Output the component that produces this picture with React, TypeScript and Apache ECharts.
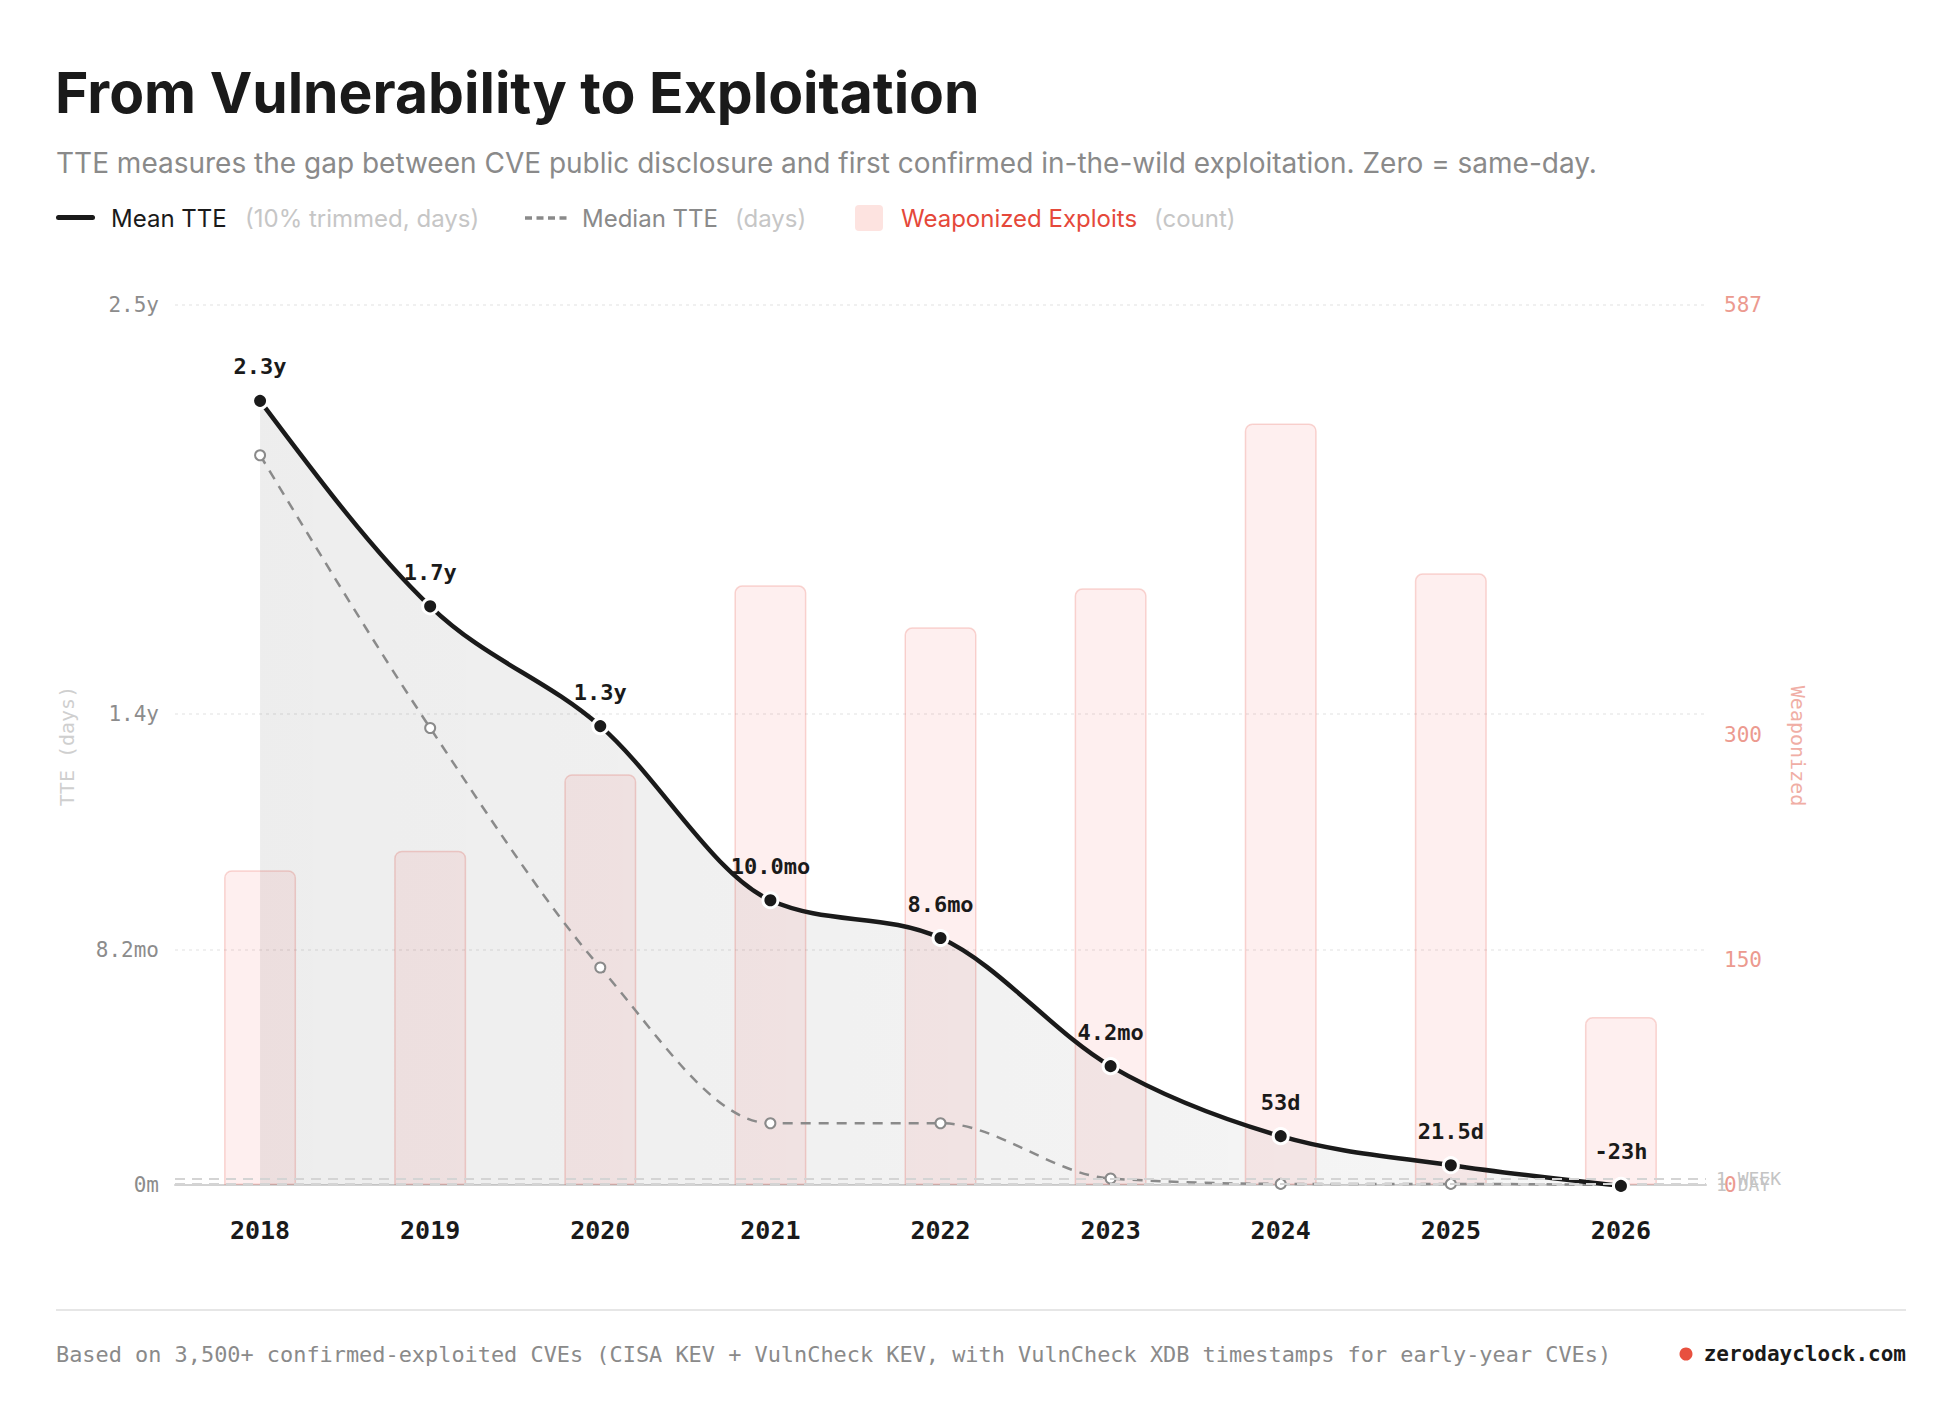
import React, { useEffect, useRef } from "react";
import * as echarts from "echarts";

// ---- data ----
const years = ["2018", "2019", "2020", "2021", "2022", "2023", "2024", "2025", "2026"];
const meanDays = [851, 628, 498, 309, 268, 129, 53, 21.5, -0.96];
const meanLabels = ["2.3y", "1.7y", "1.3y", "10.0mo", "8.6mo", "4.2mo", "53d", "21.5d", "-23h"];
const medianDays = [792, 496, 236, 67, 67, 7, 1.2, 1.2, 0];
const weaponized = [210, 223, 274, 400, 372, 398, 508, 408, 112];

const leftTicks = [0, 255, 511, 955];
const leftTickLabels = ["0m", "8.2mo", "1.4y", "2.5y"];
const rightTicks = [0, 150, 300, 587];
const rightTickLabels = ["0", "150", "300", "587"];

const refLines = [
  { value: 7, label: "1 WEEK" },
  { value: 1, label: "1 DAY" },
];

const MONO = "'DejaVu Sans Mono', 'Liberation Mono', monospace";
const SANS = "Inter, 'Noto Sans', sans-serif";

// monotone-x cubic path (same maths as d3.curveMonotoneX) through pixel points
function monotonePath(pts: number[][]): string {
  const n = pts.length;
  if (n < 2) return "";
  const sign = (v: number) => (v < 0 ? -1 : 1);
  const s: number[] = [];
  for (let i = 0; i < n - 1; i++) {
    const h = pts[i + 1][0] - pts[i][0];
    s.push((pts[i + 1][1] - pts[i][1]) / h);
  }
  const t: number[] = new Array(n).fill(0);
  for (let i = 1; i < n - 1; i++) {
    const h0 = pts[i][0] - pts[i - 1][0];
    const h1 = pts[i + 1][0] - pts[i][0];
    const s0 = s[i - 1];
    const s1 = s[i];
    const p = (s0 * h1 + s1 * h0) / (h0 + h1);
    const v = (sign(s0) + sign(s1)) * Math.min(Math.abs(s0), Math.abs(s1), 0.5 * Math.abs(p));
    t[i] = v || 0;
  }
  t[0] = n > 2 ? (3 * s[0] - t[1]) / 2 : s[0];
  t[n - 1] = n > 2 ? (3 * s[n - 2] - t[n - 2]) / 2 : s[n - 2];
  let d = `M${pts[0][0]},${pts[0][1]}`;
  for (let i = 0; i < n - 1; i++) {
    const [x0, y0] = pts[i];
    const [x1, y1] = pts[i + 1];
    const dx = (x1 - x0) / 3;
    d += ` C${x0 + dx},${y0 + dx * t[i]} ${x1 - dx},${y1 - dx * t[i + 1]} ${x1},${y1}`;
  }
  return d;
}

export default function App() {
  const ref = useRef<HTMLDivElement>(null);

  useEffect(() => {
    if (!ref.current) return;
    const chart = echarts.init(ref.current, null, { renderer: "svg" });

    const txt = (x: number, y: number, text: string, fill: string, size: number, family: string, weight: any = 400, align = "left", extra: any = {}) => ({
      type: "text",
      x,
      y,
      silent: true,
      ...extra,
      style: {
        text,
        fill,
        fontSize: size,
        fontFamily: family,
        fontWeight: weight,
        textAlign: align,
        textVerticalAlign: "middle",
      },
    });

    const meanGradient = new echarts.graphic.LinearGradient(0, 0, 1, 0, [
      { offset: 0, color: "rgba(0,0,0,0.07)" },
      { offset: 1, color: "rgba(0,0,0,0.035)" },
    ]);

    const option: any = {
      animation: false,
      backgroundColor: "#ffffff",
      grid: { left: 175, right: 254, top: 305, bottom: 241, containLabel: false },
      xAxis: {
        type: "category",
        data: years,
        boundaryGap: true,
        axisLine: { show: true, lineStyle: { color: "#d2d2d2", width: 2 } },
        axisTick: { show: false },
        axisLabel: {
          color: "#1a1a1a",
          fontFamily: MONO,
          fontWeight: 700,
          fontSize: 25,
          margin: 33,
        },
        splitLine: { show: false },
      },
      yAxis: [
        {
          type: "value",
          min: 0,
          max: 955,
          axisLine: { show: false },
          axisTick: { show: false, customValues: leftTicks },
          axisLabel: {
            customValues: leftTicks,
            color: "#8c8c8c",
            fontFamily: MONO,
            fontSize: 21,
            margin: 16,
            formatter: (v: number) => {
              const i = leftTicks.indexOf(v);
              return i >= 0 ? leftTickLabels[i] : "";
            },
          },
          splitLine: { show: true, lineStyle: { color: "#ebebeb", width: 1.5, type: [3, 4] } },
        },
        {
          type: "value",
          min: 0,
          max: 587,
          position: "right",
          axisLine: { show: false },
          axisTick: { show: false, customValues: rightTicks },
          axisLabel: {
            customValues: rightTicks,
            color: "#ec9a8f",
            fontFamily: MONO,
            fontSize: 21,
            margin: 18,
            formatter: (v: number) => {
              const i = rightTicks.indexOf(v);
              return i >= 0 ? rightTickLabels[i] : "";
            },
          },
          splitLine: { show: false },
        },
      ],
      series: [
        {
          name: "Weaponized Exploits",
          type: "bar",
          yAxisIndex: 1,
          data: weaponized,
          barWidth: 72,
          z: 1,
          itemStyle: {
            color: "rgba(239,83,80,0.09)",
            borderColor: "rgba(232,110,100,0.28)",
            borderWidth: 1.5,
            borderRadius: [7, 7, 0, 0],
          },
        },
        // smooth monotone curves (area + lines), drawn through the axes' own scales
        {
          name: "curves",
          type: "custom",
          coordinateSystem: "cartesian2d",
          yAxisIndex: 0,
          data: [[0, 0]],
          z: 3,
          silent: true,
          clip: false,
          renderItem: (params: any, api: any) => {
            if (params.dataIndex !== 0) return null;
            const meanPts = meanDays.map((v, i) => api.coord([i, v]));
            const medPts = medianDays.map((v, i) => api.coord([i, v]));
            const zeroY = api.coord([0, 0])[1];
            const meanD = monotonePath(meanPts);
            const medD = monotonePath(medPts);
            const last = meanPts[meanPts.length - 1];
            const first = meanPts[0];
            const areaD = `${meanD} L${last[0]},${zeroY} L${first[0]},${zeroY} Z`;
            return {
              type: "group",
              children: [
                { type: "path", shape: { pathData: areaD }, style: { fill: meanGradient, stroke: null } },
                {
                  type: "path",
                  shape: { pathData: medD },
                  style: { fill: null, stroke: "#8a8a8a", lineWidth: 2.5, lineDash: [10, 8] },
                },
                {
                  type: "path",
                  shape: { pathData: meanD },
                  style: { fill: null, stroke: "#1a1a1a", lineWidth: 4.5, lineJoin: "round", lineCap: "round" },
                },
              ],
            };
          },
        },
        {
          name: "Median TTE",
          type: "line",
          yAxisIndex: 0,
          data: medianDays,
          clip: false,
          z: 4,
          symbol: "circle",
          symbolSize: 10,
          itemStyle: { color: "#ffffff", borderColor: "#8a8a8a", borderWidth: 2 },
          lineStyle: { width: 0, opacity: 0 },
          markLine: {
            silent: true,
            symbol: "none",
            lineStyle: { color: "#d4d4d4", width: 2, type: [10, 7] },
            label: {
              show: true,
              position: "end",
              distance: 10,
              color: "#c4c4c4",
              fontFamily: MONO,
              fontSize: 18,
            },
            data: refLines.map((r) => ({ yAxis: r.value, label: { formatter: r.label } })),
          },
        },
        {
          name: "Mean TTE",
          type: "line",
          yAxisIndex: 0,
          data: meanDays,
          clip: false,
          z: 5,
          symbol: "circle",
          symbolSize: 15,
          itemStyle: { color: "#1a1a1a", borderColor: "#ffffff", borderWidth: 3 },
          lineStyle: { width: 0, opacity: 0 },
          label: {
            show: true,
            position: "top",
            distance: 14,
            color: "#1a1a1a",
            fontFamily: MONO,
            fontWeight: 700,
            fontSize: 22,
            formatter: (p: any) => meanLabels[p.dataIndex],
          },
        },
      ],
      graphic: [
        txt(55, 92, "From Vulnerability to Exploitation", "#1a1a1a", 57, SANS, 700),
        txt(56, 163, "TTE measures the gap between CVE public disclosure and first confirmed in-the-wild exploitation. Zero = same-day.", "#8a8a8a", 28, SANS, 400),
        // legend
        { type: "rect", silent: true, shape: { x: 56, y: 215, width: 39, height: 5, r: 2.5 }, style: { fill: "#1a1a1a" } },
        txt(111, 218, "Mean TTE", "#1a1a1a", 24, SANS, 400),
        txt(245, 218, "(10% trimmed, days)", "#c6c6c6", 24, SANS, 400),
        { type: "line", silent: true, shape: { x1: 525, y1: 218, x2: 567, y2: 218 }, style: { stroke: "#8a8a8a", lineWidth: 3.5, lineDash: [7, 4.5] } },
        txt(582, 218, "Median TTE", "#8a8a8a", 24, SANS, 400),
        txt(735, 218, "(days)", "#c6c6c6", 24, SANS, 400),
        { type: "rect", silent: true, shape: { x: 855, y: 205, width: 28, height: 26, r: 4 }, style: { fill: "#fde3e0" } },
        txt(901, 218, "Weaponized Exploits", "#e5483a", 24, SANS, 400),
        txt(1154, 218, "(count)", "#c6c6c6", 24, SANS, 400),
        // axis names
        txt(67, 746, "TTE (days)", "#cfcfcf", 20, MONO, 400, "center", { rotation: Math.PI / 2 }),
        txt(1798, 746, "Weaponized", "#f0aea5", 20, MONO, 400, "center", { rotation: -Math.PI / 2 }),
        // footer
        { type: "line", silent: true, shape: { x1: 56, y1: 1310, x2: 1906, y2: 1310 }, style: { stroke: "#e6e6e6", lineWidth: 2 } },
        txt(56, 1354, "Based on 3,500+ confirmed-exploited CVEs (CISA KEV + VulnCheck KEV, with VulnCheck XDB timestamps for early-year CVEs)", "#8a8a8a", 21.9, MONO, 400),
        { type: "circle", silent: true, shape: { cx: 1686, cy: 1354, r: 6.5 }, style: { fill: "#e8503f" } },
        txt(1906, 1354, "zerodayclock.com", "#1a1a1a", 21, MONO, 700, "right"),
      ],
    };

    chart.setOption(option);
    return () => chart.dispose();
  }, []);

  return (
    <div
      ref={ref}
      style={{ position: "absolute", left: 0, top: 0, width: 1960, height: 1426, background: "#fff" }}
    />
  );
}
